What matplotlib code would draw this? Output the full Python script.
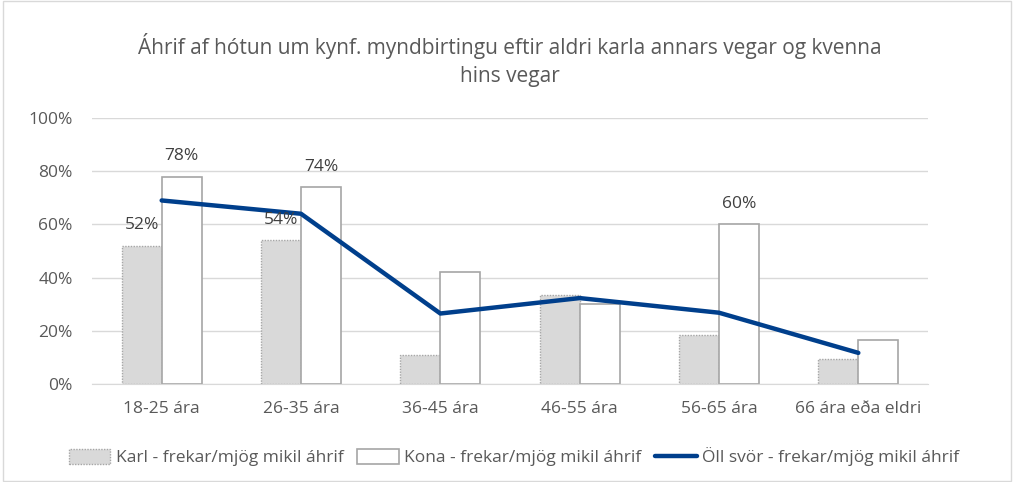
import matplotlib
matplotlib.use("Agg")
import matplotlib.pyplot as plt
import numpy as np
from matplotlib.patches import Rectangle

categories = ["18-25 ára", "26-35 ára", "36-45 ára", "46-55 ára", "56-65 ára", "66 ára eða eldri"]
karl = [52, 54, 11, 33.5, 18.5, 9.5]
kona = [78, 74, 42, 30, 60, 16.5]
oll = [69, 64, 26.5, 32.3, 26.8, 11.7]
karl_labels = ["52%", "54%", None, None, None, None]
kona_labels = ["78%", "74%", None, None, "60%", None]

title = "Áhrif af hótun um kynf. myndbirtingu eftir aldri karla annars vegar og kvenna\nhins vegar"
leg_labels = ["Karl - frekar/mjög mikil áhrif", "Kona - frekar/mjög mikil áhrif", "Öll svör - frekar/mjög mikil áhrif"]

plt.rcParams['font.family'] = ['Open Sans', 'DejaVu Sans']
txt = '#595959'

fig = plt.figure(figsize=(10.14, 4.82), dpi=100)
ax = fig.add_axes([92/1014, 1-384/482, (928-92)/1014, (384-118)/482])

x = np.arange(len(categories))
w = 0.287
b1 = ax.bar(x - w/2, karl, w, color='#D9D9D9', edgecolor='#A6A6A6', linestyle=(0, (1, 1)), linewidth=1, zorder=2)
b2 = ax.bar(x + w/2, kona, w, color='white', edgecolor='#A6A6A6', linewidth=1.2, zorder=2)
ln, = ax.plot(x, oll, color='#003F8C', linewidth=3.2, solid_capstyle='round', zorder=3)

for i, lab in enumerate(karl_labels):
    if lab:
        ax.annotate(lab, (x[i] - w/2, karl[i]), xytext=(0, 9), textcoords='offset points',
                    ha='center', va='bottom', fontsize=12.5, color='#404040', zorder=4)
for i, lab in enumerate(kona_labels):
    if lab:
        ax.annotate(lab, (x[i] + w/2, kona[i]), xytext=(0, 9), textcoords='offset points',
                    ha='center', va='bottom', fontsize=12.5, color='#404040', zorder=4)

ax.set_xlim(-0.5, len(categories) - 0.5)
ax.set_ylim(0, 100)
ax.set_yticks(np.arange(0, 101, 20))
ax.set_yticklabels([f"{v}%" for v in range(0, 101, 20)])
ax.set_xticks(x)
ax.set_xticklabels(categories)
ax.tick_params(axis='both', length=0, labelsize=12.5, colors=txt)
ax.tick_params(axis='y', pad=14)
ax.tick_params(axis='x', pad=12)
ax.grid(axis='y', color='#D9D9D9', linewidth=1, zorder=0)
ax.set_axisbelow(True)
for s in ['top', 'right', 'left']:
    ax.spines[s].set_visible(False)
ax.spines['bottom'].set_color('#D9D9D9')

fig.text(510/1014, 1-60/482, title, ha='center', va='center', fontsize=15, color=txt, linespacing=1.4)

leg = fig.legend([b1, b2, ln], leg_labels, loc='center', bbox_to_anchor=(514/1014, 1-457/482),
                 ncol=3, frameon=False, handlelength=2.4, handleheight=0.9, handletextpad=0.3,
                 columnspacing=0.8, labelcolor=txt,
                 prop={'family': ['Open Sans', 'DejaVu Sans'], 'size': 12.5})

fig.add_artist(Rectangle((0.003, 0.003), 0.994, 0.994, transform=fig.transFigure, fill=False,
                         edgecolor='#D9D9D9', linewidth=1))

fig.savefig('out.png', dpi=100)
